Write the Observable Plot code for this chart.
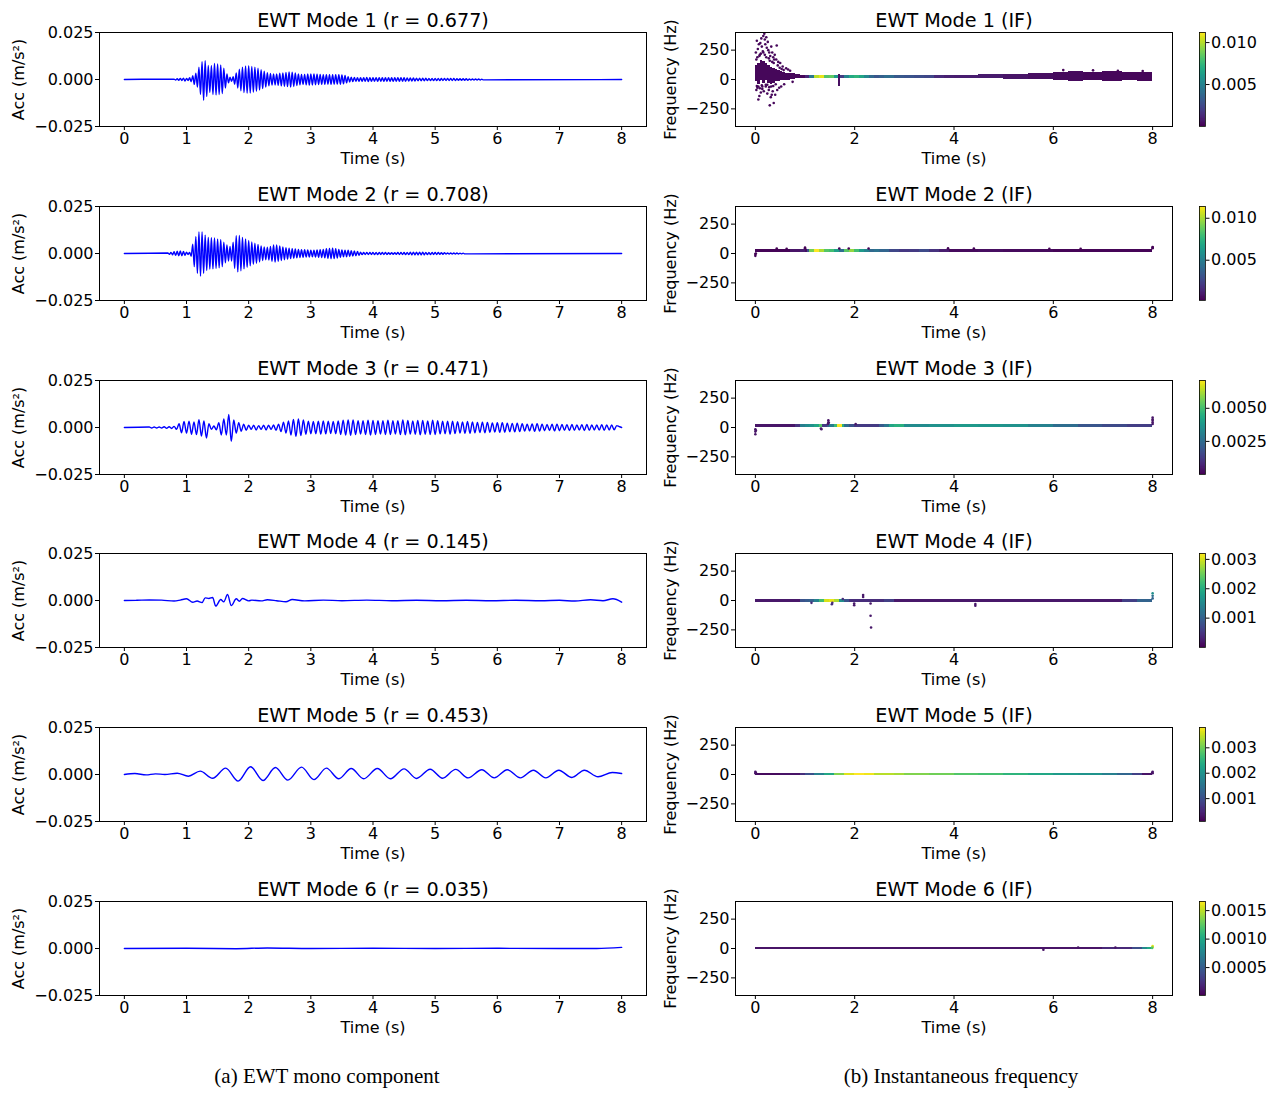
<!DOCTYPE html>
<html>
<head>
<meta charset="utf-8">
<script src="https://cdn.jsdelivr.net/npm/d3@7"></script>
<script src="https://cdn.jsdelivr.net/npm/@observablehq/plot@0.6"></script>
<style>
  html, body { margin: 0; padding: 0; background: #fff; }
  #chart { position: relative; width: 1279px; height: 1093px; background: #fff; overflow: hidden; }
  .cap { position: absolute; font-family: "Liberation Serif", "Times New Roman", serif; font-size: 21px; color: #000; white-space: nowrap; transform: translateX(-50%); }
</style>
</head>
<body>
<div id="chart"></div>
<script>
// ---------------- DATA ----------------
const timeSpan = [0, 8];
const leftTimeTicks = [0, 1, 2, 3, 4, 5, 6, 7, 8];
const rightTimeTicks = [0, 2, 4, 6, 8];
const accDomain = [-0.025, 0.025];          // m/s²
const accTicks = [-0.025, 0, 0.025];
const freqDomain = [-400, 400];             // Hz
const freqTicks = [-250, 0, 250];
const corr = [0.677, 0.708, 0.471, 0.145, 0.453, 0.035];
const captions = ["(a) EWT mono component", "(b) Instantaneous frequency"];

// Waveforms: successive extrema in mm/s² (uniform spacing for modes 1-3)
const m1Start = 0.80, m1Step = 0.025;
const m1Acc = [
  0.2,-0.3,0.4,-0.4,0.6,-0.5,0.7,-0.8,
  0.6,-0.5,0.9,-1.2,2.0,-2.6,3.4,-4.0,
  6.5,-8.0,9.5,-11.0,10.0,-9.0,7.5,-7.0,
  7.5,-8.0,8.5,-8.2,8.3,-8.0,7.8,-7.5,
  6.0,-4.5,3.0,-1.8,1.2,-1.0,1.5,-2.5,
  3.5,-4.5,5.5,-6.0,6.5,-7.0,7.2,-7.3,
  7.3,-7.2,7.0,-6.8,6.5,-6.3,6.0,-5.6,
  5.2,-4.8,4.4,-4.0,3.6,-3.4,3.2,-3.0,
  2.9,-2.9,3.0,-3.1,3.3,-3.4,3.5,-3.6,
  3.7,-3.8,4.0,-4.0,3.9,-3.7,3.5,-3.2,
  3.0,-2.8,2.7,-2.6,2.7,-2.8,3.0,-3.0,
  3.0,-2.9,2.9,-2.8,2.8,-2.7,2.7,-2.6,
  2.6,-2.6,2.5,-2.5,2.5,-2.6,2.6,-2.5,
  2.5,-2.4,2.5,-2.5,2.4,-2.3,2.2,-1.8,
  1.5,-1.3,1.2,-1.1,1.1,-1.0,1.0,-1.0,
  1.0,-1.0,1.0,-1.0,1.1,-1.1,1.0,-1.0,
  0.9,-0.9,1.0,-1.0,1.0,-0.9,0.9,-0.9,
  0.9,-0.9,1.0,-1.0,1.0,-1.0,0.9,-0.9,
  1.0,-1.0,1.0,-0.9,0.9,-0.9,0.8,-0.8,
  0.8,-0.8,0.8,-0.8,0.7,-0.7,0.7,-0.7,
  0.7,-0.7,0.7,-0.6,0.6,-0.6,0.6,-0.6,
  0.6,-0.6,0.6,-0.6,0.5,-0.5,0.5,-0.5,
  0.5,-0.5,0.5,-0.5,0.5,-0.5,0.4,-0.4,
  0.4,-0.4,0.4,-0.4,0.4,-0.4,0.3,-0.3,
  0.3,-0.3,0.3,-0.3,0.3,-0.3,0.2,-0.2];

const m2Start = 0.70, m2Step = 0.025;
const m2Acc = [
  0.3,-0.4,0.6,-0.7,0.9,-1.0,1.2,-1.2,
  1.3,-1.2,1.1,-1.0,0.7,-0.5,0.6,-1.5,
  5.0,-7.0,9.0,-10.5,11.5,-12.0,11.5,-10.5,
  9.8,-9.0,8.5,-8.3,8.4,-8.2,8.3,-8.0,
  7.8,-7.6,7.5,-7.0,6.0,-5.0,4.5,-4.0,
  3.8,-4.0,6.0,-8.0,9.5,-9.8,9.6,-9.2,
  8.6,-8.2,7.8,-7.4,7.0,-6.6,6.2,-5.8,
  5.5,-5.2,4.8,-4.5,4.0,-3.7,3.5,-3.3,
  3.3,-3.5,3.8,-4.2,4.5,-4.6,4.5,-4.2,
  4.0,-3.7,3.5,-3.3,3.1,-3.0,2.8,-2.7,
  2.6,-2.5,2.4,-2.3,2.2,-2.1,2.0,-2.0,
  2.0,-1.9,1.9,-1.9,1.8,-1.8,1.8,-1.9,
  1.9,-2.0,2.0,-2.1,2.2,-2.3,2.5,-2.6,
  2.7,-2.8,2.8,-2.7,2.6,-2.4,2.2,-2.0,
  1.9,-1.8,1.8,-1.7,1.7,-1.6,1.5,-1.4,
  1.3,-1.2,1.1,-0.9,0.7,-0.6,0.5,-0.5,
  0.5,-0.5,0.5,-0.5,0.6,-0.6,0.6,-0.6,
  0.6,-0.5,0.5,-0.5,0.5,-0.5,0.4,-0.4,
  0.4,-0.4,0.4,-0.4,0.5,-0.5,0.5,-0.5,
  0.5,-0.6,0.6,-0.6,0.7,-0.7,0.7,-0.7,
  0.7,-0.7,0.7,-0.7,0.7,-0.7,0.6,-0.6,
  0.6,-0.6,0.6,-0.5,0.5,-0.5,0.5,-0.4,
  0.4,-0.4,0.4,-0.3,0.3,-0.3,0.3,-0.3,
  0.3,-0.3,0.3,-0.3,0.2,-0.2,0.2,-0.2];

const m3Start = 0.40, m3Step = 0.04;
const m3Acc = [
  0.3,-0.3,0.3,-0.3,0.3,-0.3,0.4,-0.4,0.4,-0.5,
  0.6,-1.0,2.0,-2.8,3.2,-3.0,3.4,-3.6,3.0,-3.8,
  4.2,-4.6,3.5,-5.6,2.0,-1.0,0.8,-1.2,2.5,-4.0,
  4.5,-4.0,7.0,-7.4,4.0,-3.0,2.5,-2.0,1.8,-1.5,
  1.2,-1.0,1.2,-1.3,1.0,-1.0,1.2,-1.3,1.2,-1.0,
  1.3,-1.5,1.8,-2.2,2.8,-3.0,3.5,-4.0,4.3,-4.7,
  4.5,-4.3,4.0,-3.6,3.4,-3.3,3.2,-3.3,3.4,-3.5,
  3.5,-3.4,3.3,-3.2,3.2,-3.3,3.5,-3.7,3.9,-4.0,
  4.0,-4.1,4.0,-3.8,3.6,-3.5,3.6,-3.8,3.9,-4.0,
  3.8,-3.7,3.6,-3.5,3.6,-3.8,3.9,-3.8,3.6,-3.5,
  3.6,-3.8,4.0,-3.9,3.7,-3.5,3.5,-3.6,3.8,-3.9,
  3.8,-3.6,3.5,-3.7,3.9,-3.8,3.6,-3.4,3.3,-3.3,
  3.4,-3.5,3.4,-3.2,3.1,-3.0,3.0,-3.1,3.2,-3.1,
  3.0,-2.8,2.7,-2.7,2.8,-2.8,2.7,-2.5,2.4,-2.4,
  2.5,-2.6,2.6,-2.5,2.3,-2.2,2.2,-2.3,2.3,-2.2,
  2.0,-1.9,1.8,-1.8,1.9,-2.0,2.0,-1.9,1.8,-1.7,
  1.6,-1.6,1.7,-1.8,1.8,-1.7,1.6,-1.5,1.5,-1.6,
  1.6,-1.5,1.4,-1.4,1.5,-1.6,1.6,-1.5,1.4,-1.3,
  1.3,-1.4,1.5,-1.5,1.4,-1.3,1.3,-1.2,1.0,0.5];

const m4T   = [0.00,0.20,0.40,0.60,0.80,0.90,1.00,1.10,1.17,1.25,1.30,1.36,1.42,1.47,1.55,1.60,1.66,1.72,1.80,1.85,1.90,2.00,2.05,2.20,2.30,2.45,2.60,2.70,2.90,3.20,3.50,3.90,4.30,4.70,5.10,5.50,5.90,6.30,6.70,7.00,7.25,7.50,7.70,7.86,8.00];
const m4Acc = [0.0,0.1,0.3,0.2,-0.3,0.2,0.9,-0.9,-0.3,-1.1,1.4,1.1,1.6,-3.0,0.5,-0.7,3.2,-2.7,0.9,-0.4,1.1,-0.2,0.2,-0.2,0.4,-0.1,-0.7,0.5,-0.2,0.2,-0.1,0.2,-0.1,0.1,-0.1,0.1,-0.1,0.1,-0.1,0.1,-0.3,0.4,-0.1,0.9,-0.9];

const m5T   = [0.00,0.17,0.35,0.50,0.65,0.85,1.03,1.22,1.42,1.63,1.83,2.03,2.23,2.43,2.63,2.85,3.05,3.25,3.45,3.65,3.85,4.07,4.28,4.50,4.70,4.92,5.12,5.33,5.53,5.75,5.95,6.16,6.37,6.58,6.78,6.99,7.20,7.40,7.62,7.85,8.00];
const m5Acc = [0.0,0.5,-0.2,0.35,0.0,0.7,-0.9,1.8,-2.0,3.4,-3.5,4.1,-3.2,3.7,-3.0,3.9,-2.7,3.4,-2.3,3.2,-2.3,3.2,-2.3,3.0,-2.1,2.8,-2.0,2.7,-1.8,2.5,-1.8,2.5,-1.8,2.3,-1.8,2.3,-1.6,2.3,-1.2,1.1,0.5];

const m6T   = [0.0,1.0,1.8,2.3,3.0,4.0,5.0,6.0,7.0,7.6,8.0];
const m6Acc = [0.0,0.1,-0.1,0.3,0.0,0.1,0.0,0.1,0.0,0.0,0.6];

// Instantaneous frequency: dense point bands (time knots, freq low/high in Hz, amplitude m/s²)
const if1T   = [0.00,0.05,0.10,0.15,0.20,0.25,0.30,0.35,0.40,0.45,0.50,0.55,0.60,0.70,0.80,0.90,1.00,1.10,1.20,1.30,1.40,1.50,1.60,1.68,1.72,1.80,1.90,2.00,2.10,2.20,2.30,2.40,2.50,2.60,2.80,3.00,3.20,3.40,3.60,3.80,4.00,4.50,5.00,5.50,6.00,6.30,6.60,7.00,7.40,7.70,8.00];
const if1Lo  = [-20,-40,-10,-30,-10,-30,-40,-30,-20,-15,-10,-8,-5,0,5,10,10,10,10,10,10,10,10,-60,10,10,10,10,10,10,10,10,10,10,10,10,10,10,10,10,8,5,3,0,-10,-15,-12,-15,-12,-15];
const if1Hi  = [120,140,160,150,140,120,100,95,85,75,68,60,55,48,42,36,36,36,36,36,36,36,36,40,36,36,36,36,36,36,36,36,36,36,36,36,36,36,36,36,38,40,42,48,60,68,62,65,60,62];
const if1Amp = [0.0002,0.0002,0.0002,0.0002,0.0002,0.0002,0.0002,0.0002,0.0002,0.0002,0.0002,0.0002,0.0002,0.0002,0.0002,0.0002,
  0.0012,0.0045,0.0100,0.0108,0.0082,0.0084,0.0060,0.0004,0.0020,0.0050,0.0068,0.0073,0.0066,0.0052,0.0038,0.0030,0.0034,0.0039,0.0031,0.0029,0.0026,0.0024,0.0013,0.0010,0.0009,0.0008,0.0006,0.0004,0.0003,0.0003,0.0002,0.0002,0.0002,0.0002];
const if1DotT = [0.01,0.02,0.03,0.04,0.05,0.06,0.07,0.08,0.09,0.10,0.11,0.12,0.13,0.14,0.15,0.16,0.17,0.18,0.19,0.20,0.21,0.22,0.23,0.24,0.25,0.26,0.27,0.28,0.29,0.30,0.31,0.32,0.33,0.34,0.35,0.36,0.37,0.38,0.39,0.40,0.42,0.43,0.44,0.46,0.48,0.50,0.52,0.55,0.58,0.62,0.66,0.70,0.75,6.20,6.80,7.30,7.80,
  0.02,0.04,0.06,0.08,0.11,0.13,0.16,0.19,0.22,0.24,0.27,0.29,0.32,0.34,0.37,0.41,0.45,0.49,0.53,0.57,0.03,0.09,0.14,0.21,0.28,0.36];
const if1DotF = [230,-90,330,-70,260,-170,300,-140,210,310,-110,350,280,-80,240,370,-100,390,340,300,-60,360,270,-120,320,250,-90,230,-220,200,-150,280,-130,230,-100,190,-200,170,210,-130,170,290,-90,150,-70,140,-60,110,-40,95,85,75,-20,80,78,75,72,
  170,190,-60,200,220,-50,230,210,190,-45,180,160,-60,150,140,-40,120,100,90,80,-55,-75,-60,-45,-65,-55];
const if1DotAmp = 0.0002;

const if2T   = [0.00,0.70,0.90,1.00,1.05,1.10,1.20,1.30,1.40,1.50,1.60,1.70,1.80,1.90,2.00,2.10,2.20,2.30,2.40,2.50,2.70,2.90,3.10,3.30,3.50,3.70,3.90,4.50,5.00,6.00,8.00];
const if2Lo = 8, if2Hi = 37;
const if2Amp = [0.0003,0.0008,0.0012,0.0006,0.0030,0.0090,0.0115,0.0100,0.0084,0.0080,0.0065,0.0042,0.0085,0.0096,0.0080,0.0062,0.0052,0.0040,0.0044,0.0038,0.0026,0.0020,0.0021,0.0027,0.0018,0.0011,0.0005,0.0006,0.0005,0.0003];
const if2DotT = [0.00,0.00,0.01,0.43,0.63,1.00,1.00,1.69,1.88,2.28,3.88,4.40,5.92,6.55,8.00,8.00,8.00];
const if2DotF = [-20,-5,0,42,40,45,50,42,42,42,44,42,40,40,45,55,50];
const if2DotAmp = 0.0003;

const if3T   = [0.00,0.80,0.90,1.00,1.10,1.20,1.30,1.35,1.45,1.50,1.60,1.65,1.75,1.80,1.90,2.00,2.50,2.60,2.70,2.80,3.00,3.50,4.00,4.50,5.00,5.50,6.00,6.50,7.00,7.50,8.00];
const if3Lo = -3, if3Hi = 28;
const if3Amp = [0.0004,0.0010,0.0030,0.0034,0.0036,0.0042,0.0052,0.0012,0.0020,0.0030,0.0048,0.0071,0.0045,0.0025,0.0018,0.0012,0.0020,0.0028,0.0042,0.0045,0.0034,0.0036,0.0038,0.0037,0.0036,0.0031,0.0025,0.0019,0.0016,0.0013];
const if3DotT = [0.00,0.00,0.00,0.01,1.32,1.33,1.46,1.47,1.47,1.48,2.02,8.00,8.00,8.00,8.00,8.00];
const if3DotF = [-15,-35,-57,-25,-8,-14,30,45,62,40,30,30,45,60,85,70];
const if3DotAmp = 0.0004;

const if4T   = [0.00,0.90,1.00,1.10,1.20,1.30,1.40,1.50,1.60,1.70,1.80,1.90,2.60,2.80,7.40,7.70,8.00];
const if4Lo = -15, if4Hi = 8;
const if4Amp = [0.0002,0.0008,0.0009,0.0010,0.0014,0.0022,0.0030,0.0031,0.0028,0.0016,0.0008,0.0004,0.0006,0.0002,0.0006,0.0010];
const if4DotT = [1.13,1.54,1.55,1.76,1.99,1.99,2.17,2.17,2.32,2.32,2.33,4.43,4.43,8.00,8.00,8.00];
const if4DotF = [-20,-32,-20,12,-40,-25,47,30,-26,-130,-230,-44,-30,18,40,62];
const if4DotAmp = [0.0004,0.0004,0.0004,0.0004,0.0002,0.0002,0.0002,0.0002,0.0002,0.0002,0.0002,0.0002,0.0002,0.0010,0.0012,0.0016];

const if5T   = [0.0,0.5,0.9,1.0,1.2,1.4,1.6,1.8,2.0,2.2,2.4,2.6,2.8,3.0,3.5,4.0,4.5,5.0,5.5,6.0,6.5,7.0,7.3,7.6,7.8,8.0];
const if5Lo = -10, if5Hi = 6;
const if5Amp = [0.0002,0.0003,0.0006,0.0010,0.0017,0.0023,0.0031,0.0036,0.0038,0.0037,0.0034,0.0034,0.0033,0.0031,0.0030,0.0028,0.0027,0.0025,0.0023,0.0021,0.0020,0.0017,0.0013,0.0008,0.0003];
const if5DotT = [0.00,0.00,0.01,8.00,8.00,7.99];
const if5DotF = [10,23,15,10,23,15];
const if5DotAmp = 0.0003;

const if6T   = [0.0,7.0,7.6,7.8,7.9,8.0];
const if6Lo = -8, if6Hi = 8;
const if6Amp = [0.0001,0.0002,0.0004,0.0008,0.0010];
const if6DotT = [8.00,8.00,7.99,5.80,6.50,7.25];
const if6DotF = [20,12,5,-10,9,9];
const if6DotAmp = [0.0016,0.0015,0.0012,0.0001,0.0001,0.0001];

// Colour bar ranges (amplitude, m/s²) and their ticks
const cbDomain = [[0.0000,0.0112],[0.0002,0.0114],[0.0000,0.0071],[0.0000,0.0032],[0.0001,0.0038],[0.00001,0.00166]];
const cbTicks  = [[0.005,0.010],[0.005,0.010],[0.0025,0.0050],[0.001,0.002,0.003],[0.001,0.002,0.003],[0.0005,0.0010,0.0015]];
const cbDecimals = [3,3,4,3,3,4];

// ---------------- BUILD ----------------
function uniformSeries(start, step, vals) {
  return [{t: timeSpan[0], a: 0}, ...vals.map((a, i) => ({t: start + i * step, a})), {t: timeSpan[1], a: 0}];
}
function pairSeries(T, A) { return T.map((t, i) => ({t, a: A[i]})); }
const waves = [
  uniformSeries(m1Start, m1Step, m1Acc),
  uniformSeries(m2Start, m2Step, m2Acc),
  uniformSeries(m3Start, m3Step, m3Acc),
  pairSeries(m4T, m4Acc),
  pairSeries(m5T, m5Acc),
  pairSeries(m6T, m6Acc)
];
const pick = (v, i) => Array.isArray(v) ? v[i] : v;
function band(T, lo, hi, amp) {
  return T.slice(0, -1).map((t, i) => ({t0: t, t1: T[i + 1], lo: pick(lo, i), hi: pick(hi, i), amp: amp[i]}));
}
function dots(T, F, A) { return T.map((t, i) => ({t, f: F[i], amp: pick(A, i)})); }
const ifBands = [
  band(if1T, if1Lo, if1Hi, if1Amp), band(if2T, if2Lo, if2Hi, if2Amp), band(if3T, if3Lo, if3Hi, if3Amp),
  band(if4T, if4Lo, if4Hi, if4Amp), band(if5T, if5Lo, if5Hi, if5Amp), band(if6T, if6Lo, if6Hi, if6Amp)
];
const ifDots = [
  dots(if1DotT, if1DotF, if1DotAmp), dots(if2DotT, if2DotF, if2DotAmp), dots(if3DotT, if3DotF, if3DotAmp),
  dots(if4DotT, if4DotF, if4DotAmp), dots(if5DotT, if5DotF, if5DotAmp), dots(if6DotT, if6DotF, if6DotAmp)
];

const chart = document.getElementById("chart");
const FONT = "'DejaVu Sans', sans-serif";
const baseStyle = {background: "transparent", overflow: "visible", fontFamily: FONT, fontSize: "16px", color: "#000", maxWidth: "none"};
const ROW_STEP = 173.8, PANEL_H = 174, M_TOP = 32, M_BOTTOM = 48;

function place(node, left, top) {
  node.style.position = "absolute";
  node.style.left = left + "px";
  node.style.top = top + "px";
  chart.appendChild(node);
}

function labels(title, yLabel, yDx) {
  return [
    Plot.text([title], {frameAnchor: "top", dy: -12, fontSize: 19.2, lineAnchor: "middle", textAnchor: "middle"}),
    Plot.text(["Time (s)"], {frameAnchor: "bottom", dy: 32, fontSize: 16, lineAnchor: "middle", textAnchor: "middle"}),
    Plot.text([yLabel], {frameAnchor: "left", dx: yDx, rotate: -90, fontSize: 16, lineAnchor: "middle", textAnchor: "middle"})
  ];
}

function leftPanel(i) {
  return Plot.plot({
    width: 648, height: PANEL_H,
    marginLeft: 99, marginRight: 2, marginTop: M_TOP, marginBottom: M_BOTTOM,
    style: baseStyle,
    x: {domain: [-0.4, 8.4], label: null},
    y: {domain: accDomain, label: null},
    marks: [
      Plot.axisX({ticks: leftTimeTicks, tickFormat: d => String(d), tickSize: 4, tickPadding: 2, label: null}),
      Plot.axisY({ticks: accTicks, tickFormat: d3.format(".3f"), tickSize: 4, tickPadding: 2, label: null}),
      Plot.line(waves[i], {x: "t", y: d => d.a / 1000, stroke: "#0000ff", strokeWidth: 1.4, curve: "monotone-x"}),
      Plot.frame({stroke: "#000", strokeWidth: 1}),
      ...labels(`EWT Mode ${i + 1} (r = ${corr[i].toFixed(3)})`, "Acc (m/s²)", -81)
    ]
  });
}

function rightPanel(i) {
  return Plot.plot({
    width: 550, height: PANEL_H,
    marginLeft: 87, marginRight: 26, marginTop: M_TOP, marginBottom: M_BOTTOM,
    style: baseStyle,
    x: {domain: [-0.4, 8.4], label: null},
    y: {domain: freqDomain, label: null},
    color: {type: "linear", scheme: "viridis", domain: cbDomain[i]},
    marks: [
      Plot.axisX({ticks: rightTimeTicks, tickFormat: d => String(d), tickSize: 4, tickPadding: 2, label: null}),
      Plot.axisY({ticks: freqTicks, tickFormat: d3.format("d"), tickSize: 4, tickPadding: 2, label: null}),
      Plot.rect(ifBands[i], {x1: "t0", x2: "t1", y1: "lo", y2: "hi", fill: "amp", shapeRendering: "crispEdges"}),
      Plot.dot(ifDots[i], {x: "t", y: "f", fill: "amp", r: 1.3}),
      Plot.frame({stroke: "#000", strokeWidth: 1}),
      ...labels(`EWT Mode ${i + 1} (IF)`, "Frequency (Hz)", -65)
    ]
  });
}

function colorBar(i) {
  const [lo, hi] = cbDomain[i];
  const n = 160, h = (hi - lo) / n;
  const steps = d3.range(n).map(k => lo + k * h);
  return Plot.plot({
    width: 89, height: PANEL_H,
    marginLeft: 9, marginRight: 74, marginTop: M_TOP, marginBottom: M_BOTTOM,
    style: baseStyle,
    x: {domain: [0, 1], axis: null},
    y: {domain: [lo, hi], label: null},
    color: {type: "linear", scheme: "viridis", domain: [lo, hi]},
    marks: [
      Plot.rect(steps, {x1: 0, x2: 1, y1: d => d, y2: d => d + h * 1.02, fill: d => d + h / 2, shapeRendering: "crispEdges"}),
      Plot.frame({stroke: "#000", strokeWidth: 0.8}),
      Plot.axisY({anchor: "right", ticks: cbTicks[i], tickFormat: d3.format(`.${cbDecimals[i]}f`), tickSize: 3.5, tickPadding: 2, label: null})
    ]
  });
}

for (let i = 0; i < 6; i++) {
  const top = i * ROW_STEP;
  place(leftPanel(i), 0, top);
  place(rightPanel(i), 648, top);
  place(colorBar(i), 1190, top);
}

const capL = document.createElement("div");
capL.className = "cap"; capL.textContent = captions[0];
capL.style.left = "327px"; capL.style.top = "1064px";
chart.appendChild(capL);
const capR = document.createElement("div");
capR.className = "cap"; capR.textContent = captions[1];
capR.style.left = "961px"; capR.style.top = "1064px";
chart.appendChild(capR);
</script>
</body>
</html>
